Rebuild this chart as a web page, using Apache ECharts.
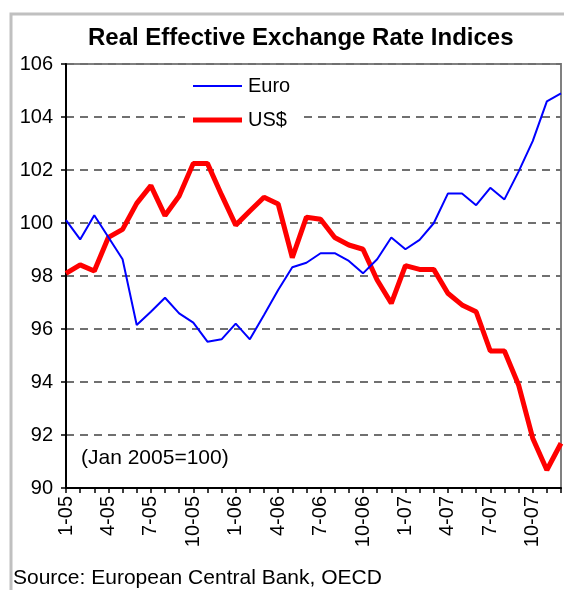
<!DOCTYPE html>
<html><head><meta charset="utf-8">
<script src="https://cdn.jsdelivr.net/npm/echarts@6/dist/echarts.min.js"></script>
<style>html,body{margin:0;padding:0;background:#fff}#c{width:564px;height:590px}</style>
</head><body><div id="c"></div>
<script>
const categories = ['1-05','2-05','3-05','4-05','5-05','6-05','7-05','8-05','9-05','10-05','11-05','12-05',
'1-06','2-06','3-06','4-06','5-06','6-06','7-06','8-06','9-06','10-06','11-06','12-06',
'1-07','2-07','3-07','4-07','5-07','6-07','7-07','8-07','9-07','10-07','11-07','12-07'];
const euro = [100.11,99.38,100.29,99.46,98.63,96.15,96.65,97.18,96.59,96.24,95.52,95.61,
96.2,95.61,96.53,97.47,98.33,98.5,98.86,98.86,98.57,98.1,98.63,99.45,
99.01,99.36,99.99,101.11,101.11,100.67,101.33,100.89,101.94,103.09,104.59,104.89];
const usd = [98.1,98.42,98.19,99.46,99.76,100.74,101.41,100.28,101.02,102.25,102.25,101.06,
99.92,100.45,100.97,100.72,98.69,100.22,100.14,99.45,99.17,99.01,97.85,96.97,
98.39,98.25,98.25,97.35,96.91,96.65,95.17,95.17,93.89,91.88,90.68,91.69];
const yTicks = {min:90, max:106, interval:2};

const font = 'Arial, "Liberation Sans", sans-serif';
const chart = echarts.init(document.getElementById('c'), null, {renderer:'canvas'});
chart.setOption({
  animation:false,
  backgroundColor:'#fff',
  title:{text:'Real Effective Exchange Rate Indices', left:83, top:21,
    textStyle:{fontFamily:font, fontSize:24, fontWeight:'bold', color:'#000'}},
  legend:{orient:'vertical', left:185, top:71, itemWidth:49, itemHeight:14, itemGap:14,
    padding:[5,10,5,8], backgroundColor:'#fff', z:5,
    textStyle:{fontFamily:font, fontSize:20, color:'#000', padding:[0,0,0,1]},
    data:[{name:'Euro', icon:'path://M0,6L49,6L49,8L0,8Z'},{name:'US$', icon:'path://M0,4.5L49,4.5L49,9.5L0,9.5Z'}]},
  grid:{left:66, right:3, top:64, bottom:102, show:true, borderColor:'#808080', borderWidth:2},
  graphic:[
    {type:'rect', shape:{x:11, y:14, width:560, height:590}, style:{fill:'none', stroke:'#c0c0c0', lineWidth:3}, z:-10},
    {type:'text', left:81, top:448, style:{text:'(Jan 2005=100)', font:'21px '+font, fill:'#000'}},
    {type:'text', left:13, top:568, style:{text:'Source: European Central Bank, OECD', font:'21px '+font, fill:'#000'}}
  ],
  xAxis:{type:'category', data:categories, boundaryGap:false,
    axisLine:{lineStyle:{color:'#000', width:2}},
    axisTick:{show:true, interval:0, length:5, lineStyle:{color:'#000', width:1.5}},
    axisLabel:{interval:2, rotate:90, fontFamily:font, fontSize:20, color:'#000', margin:8},
    splitLine:{show:false}},
  yAxis:{type:'value', min:yTicks.min, max:yTicks.max, interval:yTicks.interval,
    axisLine:{show:true, lineStyle:{color:'#000', width:2}},
    axisTick:{show:true, length:5, lineStyle:{color:'#000', width:1.5}},
    axisLabel:{fontFamily:font, fontSize:20, color:'#000', margin:13},
    splitLine:{show:true, lineStyle:{color:'#707070', width:2, type:[8,6]}}},
  series:[
    {name:'Euro', type:'line', data:euro, symbol:'none', lineStyle:{color:'#0000ff', width:2}, itemStyle:{color:'#0000ff'}, z:3},
    {name:'US$', type:'line', data:usd, symbol:'none', lineStyle:{color:'#ff0000', width:5}, itemStyle:{color:'#ff0000'}, z:2}
  ]
});
</script></body></html>
